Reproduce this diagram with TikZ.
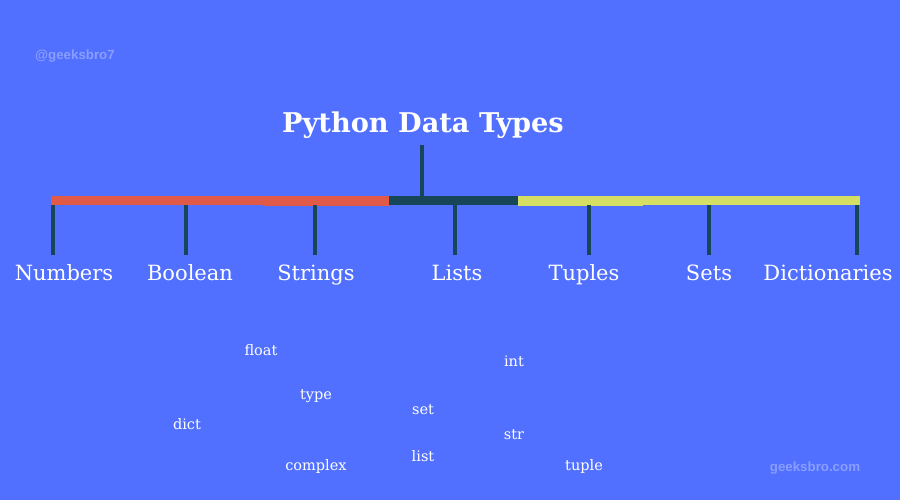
\documentclass[tikz,border=0pt]{standalone}
\usepackage{fontspec}
\setmainfont{DejaVu Serif}
\newfontfamily\wmfont{Liberation Sans}
\definecolor{bg}{HTML}{5170FF}
\definecolor{barred}{HTML}{E05A47}
\definecolor{bardark}{HTML}{164658}
\definecolor{baryellow}{HTML}{D4DF63}
\definecolor{wm}{HTML}{8A9EFF}
\tikzset{
  tick/.style={draw=bardark, line width=4pt},
  titletext/.style={anchor=base, inner sep=0pt, text=white, font=\fontsize{27.2}{31}\selectfont\bfseries},
  cat/.style={anchor=base, inner sep=0pt, text=white, font=\fontsize{21}{25}\selectfont},
  word/.style={anchor=base, inner sep=0pt, text=white, font=\fontsize{14.5}{17}\selectfont},
  mark text/.style={anchor=base, inner sep=0pt, text=wm, font=\wmfont\bfseries\fontsize{13.3}{16}\selectfont}
}
\begin{document}
\begin{tikzpicture}[x=1pt,y=-1pt]
\fill[bg] (0,0) rectangle (900,500);
\useasboundingbox (0,0) rectangle (900,500);
% bars
\fill[barred] (51,196) rectangle (389,205);
\fill[barred] (263,200) rectangle (389,206);
\fill[bardark] (389,196) rectangle (518,205);
\fill[baryellow] (518,196) rectangle (860,205);
\fill[baryellow] (518,200) rectangle (643,206);
% title and stem
\node[titletext] (title) at (423,133) {Python Data Types};
\coordinate (stemtop) at (422,145);
\coordinate (stembot) at (422,196);
\draw[tick] (stemtop) -- (stembot);
% categories
\node[cat] (numbers) at (64,280) {Numbers};
\node[cat] (boolean) at (190,280) {Boolean};
\node[cat] (strings) at (316,280) {Strings};
\node[cat] (lists) at (457,280) {Lists};
\node[cat] (tuples) at (584,280) {Tuples};
\node[cat] (sets) at (709,280) {Sets};
\node[cat] (dicts) at (828,280) {Dictionaries};
% ticks
\foreach \n/\x in {a/53,b/186,c/315,d/455,e/589,f/709,g/857}{
  \coordinate (top\n) at (\x,205);
  \coordinate (bot\n) at (\x,255);
  \draw[tick] (top\n) -- (bot\n);
}
% keywords
\node[word] (float) at (261,355) {float};
\node[word] (type) at (316,399) {type};
\node[word] (dict) at (187,429) {dict};
\node[word] (complex) at (316,470) {complex};
\node[word] (set) at (423,414) {set};
\node[word] (list) at (423,461) {list};
\node[word] (int) at (514,366) {int};
\node[word] (str) at (514,439) {str};
\node[word] (tuple) at (584,470) {tuple};
% watermarks
\node[mark text] (handle) at (75,60) {@geeksbro7};
\node[mark text] (site) at (815,471) {geeksbro.com};
\end{tikzpicture}
\end{document}
